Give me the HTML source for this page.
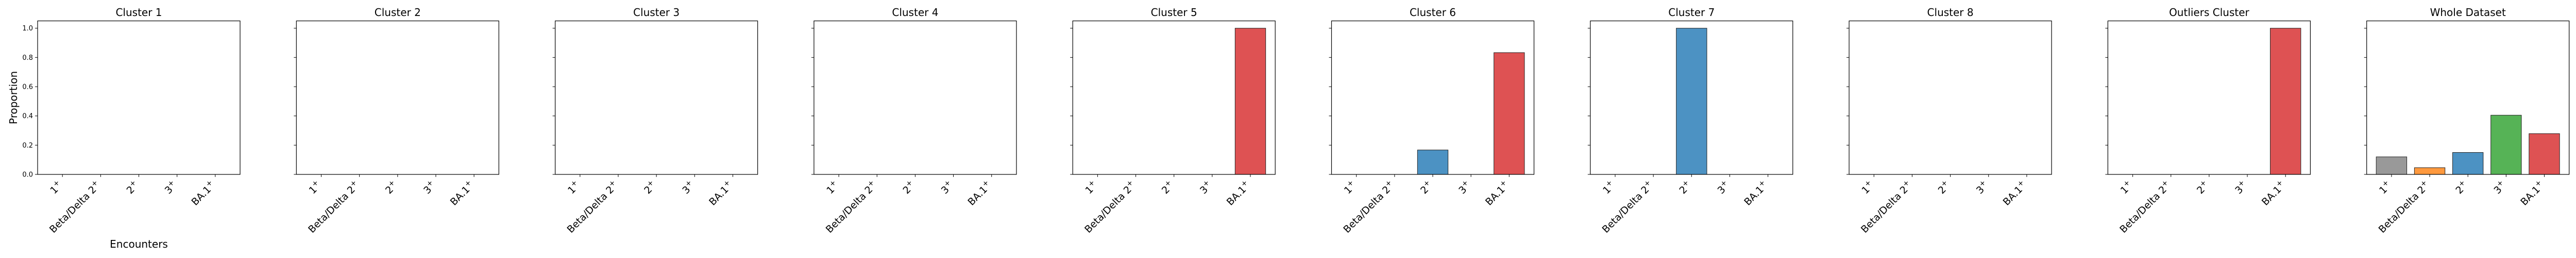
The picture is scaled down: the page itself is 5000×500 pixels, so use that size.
<!DOCTYPE html>
<html><head><meta charset="utf-8"><style>
html,body{margin:0;padding:0;background:#fff;}
svg{display:block;font-family:"DejaVu Sans","Liberation Sans",sans-serif;}
</style></head><body>
<svg id="chart" width="5000" height="500" viewBox="0 0 5000 500" xmlns="http://www.w3.org/2000/svg"></svg>
<script>
const categories = ["1+", "Beta/Delta 2+", "2+", "3+", "BA.1+"];
const panelTitles = ["Cluster 1","Cluster 2","Cluster 3","Cluster 4","Cluster 5","Cluster 6","Cluster 7","Cluster 8","Outliers Cluster","Whole Dataset"];
const cluster1 = [0,0,0,0,0];
const cluster2 = [0,0,0,0,0];
const cluster3 = [0,0,0,0,0];
const cluster4 = [0,0,0,0,0];
const cluster5 = [0,0,0,0,1.0];
const cluster6 = [0,0,0.167,0,0.833];
const cluster7 = [0,0,1.0,0,0];
const cluster8 = [0,0,0,0,0];
const outliers = [0,0,0,0,1.0];
const wholeDataset = [0.12,0.046,0.15,0.405,0.279];
const yTicks = [0,0.2,0.4,0.6,0.8,1.0];
const yTickLabels = ["0.0","0.2","0.4","0.6","0.8","1.0"];
const barColors = ["#999999","#ff993e","#4c92c3","#56b356","#de5253"];

const series = [cluster1,cluster2,cluster3,cluster4,cluster5,cluster6,cluster7,cluster8,outliers,wholeDataset];
const NS = "http://www.w3.org/2000/svg";
const svg = document.getElementById("chart");
const axTop = 40.5, axBot = 338, axW = 393, pitch = 502.3, left0 = 73;
const yMax = 1.05, xMin = -0.65, xMax = 4.65, barW = 0.8;
function mk(tag, attrs, parent){ const e=document.createElementNS(NS,tag); for(const k in attrs) e.setAttribute(k,attrs[k]); (parent||svg).appendChild(e); return e; }

series.forEach((vals, p) => {
  const L = left0 + p*pitch;
  const xs = v => L + (v - xMin)/(xMax - xMin)*axW;
  const ys = v => axBot - v/yMax*(axBot-axTop);
  const g = mk("g", {});
  
  
  const t = mk("text", {x: L+axW/2, y: 31, "text-anchor":"middle", "font-size":20, fill:"#000"}, g);
  t.textContent = panelTitles[p];
  
  
  vals.forEach((v,i) => {
    const x0 = xs(i - barW/2), x1 = xs(i + barW/2), yt = ys(v);
    const r = mk("rect", {x:x0, y:yt, width:x1-x0, height:Math.max(axBot-yt,0), fill: v>0?barColors[i]:"none", stroke: v>0?"#222":"#ddd", "stroke-width":1}, g);
    
    
  });
  const fr = mk("rect", {x:L, y:axTop, width:axW, height:axBot-axTop, fill:"none", stroke:"#000", "stroke-width":1.2}, g);
  
  
  yTicks.forEach((v,k) => {
    const y = ys(v);
    mk("line", {x1:L-5, x2:L, y1:y, y2:y, stroke:"#000", "stroke-width":1}, g);
    if (p===0){
      const tl = mk("text", {x:L-9, y:y+4.5, "text-anchor":"end", "font-size":13, fill:"#000"}, g);
      tl.textContent = yTickLabels[k];
      
      
    }
  });
  categories.forEach((c,i) => {
    const x = xs(i);
    mk("line", {x1:x, x2:x, y1:axBot, y2:axBot+5, stroke:"#000", "stroke-width":1}, g);
    const ax = x+1, ay = axBot+22;
    const tl = mk("text", {x:ax, y:ay, "text-anchor":"end", "font-size":19, fill:"#000", transform:"rotate(-45 "+ax+" "+ay+")"}, g);
    
    
    const base = c.endsWith("+") ? c.slice(0,-1) : c;
    const s1 = mk("tspan", {}, tl); s1.textContent = base;
    if (c.endsWith("+")) { const s2 = mk("tspan", {"font-size":14, dy:-8}, tl); s2.textContent = "+"; }
  });
  if (p===0){
    const yl = mk("text", {x:0, y:0, "text-anchor":"middle", "font-size":20, fill:"#000", transform:"translate(33 "+((axTop+axBot)/2)+") rotate(-90)"}, g);
    yl.textContent = "Proportion";
    
    
    const xl = mk("text", {x:L+axW/2, y:480, "text-anchor":"middle", "font-size":20, fill:"#000"}, g);
    xl.textContent = "Encounters";
    
    
  }
});
</script>
</body></html>
